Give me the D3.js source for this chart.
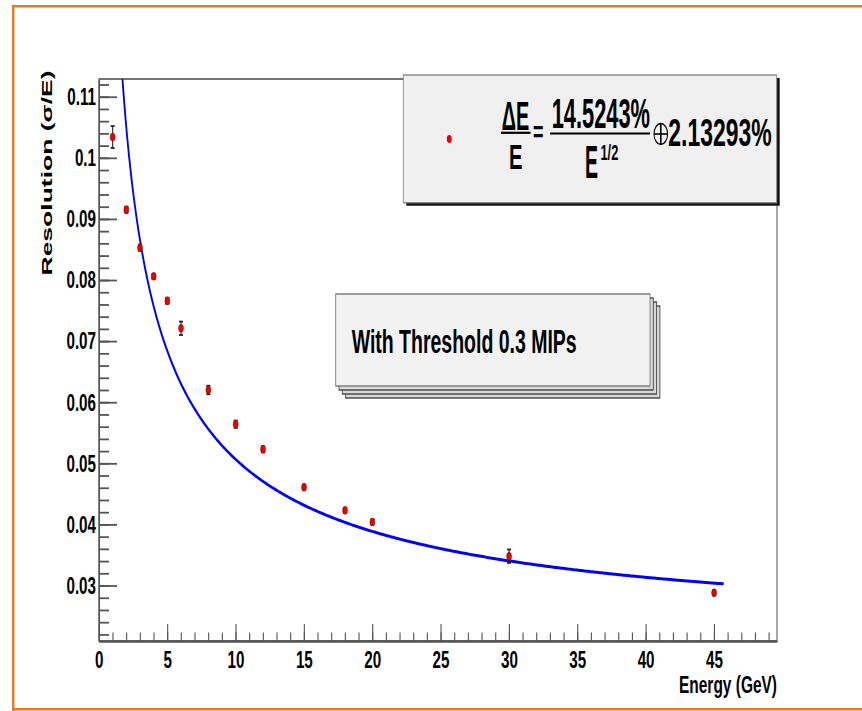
<!DOCTYPE html>
<html>
<head>
<meta charset="utf-8">
<script src="https://cdn.jsdelivr.net/npm/d3@7"></script>
<style>
body { margin: 0; background: #fff; }
text { font-family: "Liberation Sans", Arial, sans-serif; font-weight: bold; fill: #000; }
</style>
</head>
<body>
<script>
// data
var energy     = [1, 2, 3, 4, 5, 6, 8, 10, 12, 15, 18, 20, 30, 45];
var resolution = [0.1034, 0.0915, 0.0853, 0.0806, 0.0766, 0.0721, 0.0620, 0.0564, 0.0523, 0.0461, 0.0423, 0.0404, 0.0348, 0.0288];
var resError   = [0.0018, 0.0005, 0.0005, 0.0004, 0.0005, 0.0011, 0.0007, 0.0006, 0.0005, 0.0004, 0.0004, 0.0004, 0.0011, 0.0004];
var fitParams  = [0.145243, 0.0213293];   // stochastic, constant term
var fitRange   = [0.5, 45.7];
var xTickValues = [0, 5, 10, 15, 20, 25, 30, 35, 40, 45];
var yTickValues = [0.03, 0.04, 0.05, 0.06, 0.07, 0.08, 0.09, 0.1, 0.11];
var yTickLabels = ["0.03", "0.04", "0.05", "0.06", "0.07", "0.08", "0.09", "0.1", "0.11"];

// the picture is squeezed sideways; draw wide and let the viewBox squeeze it
var K = 0.62;
function X(v) { return v / K; }
var W = 862, H = 711;

var svg = d3.select("body").append("svg")
    .attr("width", W).attr("height", H)
    .attr("viewBox", "0 0 " + X(W) + " " + H)
    .attr("preserveAspectRatio", "none");

var x = d3.scaleLinear().domain([0, 49.6]).range([X(99), X(777)]);
var y = d3.scaleLinear().domain([0.02092, 0.1129]).range([641, 79]);

// orange page border
var orange = "#e8781e";
svg.append("line").attr("x1", X(12)).attr("x2", X(862)).attr("y1", 6.2).attr("y2", 6.2)
    .attr("stroke", orange).attr("stroke-width", 2.4);
svg.append("line").attr("x1", X(13.2)).attr("x2", X(13.2)).attr("y1", 5).attr("y2", 711)
    .attr("stroke", orange).attr("stroke-width", 2.4 / K);
svg.append("line").attr("x1", X(12)).attr("x2", X(862)).attr("y1", 709.3).attr("y2", 709.3)
    .attr("stroke", orange).attr("stroke-width", 2.4);

// frame
svg.append("rect")
    .attr("x", x.range()[0]).attr("y", y.range()[1])
    .attr("width", x.range()[1] - x.range()[0]).attr("height", y.range()[0] - y.range()[1])
    .attr("fill", "none").attr("stroke", "#666").attr("stroke-width", 1.8);

// axes: minor ticks then major ticks, pointing inside
var yMinor = d3.range(0.022, 0.1129, 0.002);
svg.append("g").attr("transform", "translate(" + x.range()[0] + ",0)")
    .call(d3.axisLeft(y).tickValues(yMinor).tickSize(-X(10)).tickSizeOuter(0).tickFormat(""));
svg.append("g").attr("class", "yaxis").attr("transform", "translate(" + x.range()[0] + ",0)")
    .call(d3.axisLeft(y).tickValues(yTickValues).tickSize(-X(18)).tickSizeOuter(0).tickPadding(X(3))
        .tickFormat(function(d, i) { return yTickLabels[i]; }));

var xMinor = d3.range(1, 50, 1);
svg.append("g").attr("transform", "translate(0," + y.range()[0] + ")")
    .call(d3.axisBottom(x).tickValues(xMinor).tickSize(-8.5).tickSizeOuter(0).tickFormat(""));
svg.append("g").attr("class", "xaxis").attr("transform", "translate(0," + y.range()[0] + ")")
    .call(d3.axisBottom(x).tickValues(xTickValues).tickSize(-17).tickSizeOuter(0).tickPadding(10)
        .tickFormat(d3.format("d")));

svg.selectAll(".domain").attr("stroke", "#555").attr("stroke-width", 1.8);
svg.selectAll(".tick line").attr("stroke", "#555").attr("stroke-width", 1.8);
svg.selectAll(".tick text").attr("font-size", 24.5).attr("font-family", null).attr("fill", "#000");

// axis titles
svg.append("text")
    .attr("transform", "translate(" + X(52) + ",173) rotate(-90)")
    .attr("text-anchor", "middle").attr("font-size", 24)
    .attr("textLength", 205).attr("lengthAdjust", "spacingAndGlyphs")
    .text("Resolution (\u03C3/E)");
svg.append("text")
    .attr("x", X(777)).attr("y", 693).attr("text-anchor", "end").attr("font-size", 23)
    .attr("textLength", X(98)).attr("lengthAdjust", "spacingAndGlyphs")
    .text("Energy (GeV)");

// fit curve
svg.append("clipPath").attr("id", "plotclip").append("rect")
    .attr("x", x.range()[0]).attr("y", y.range()[1])
    .attr("width", x.range()[1] - x.range()[0]).attr("height", y.range()[0] - y.range()[1]);
var fitPts = d3.range(0, 401).map(function(i) {
    var e = fitRange[0] + (fitRange[1] - fitRange[0]) * i / 400;
    var a = fitParams[0] / Math.sqrt(e);
    return [e, Math.sqrt(a * a + fitParams[1] * fitParams[1])];
});
svg.append("path")
    .datum(fitPts)
    .attr("clip-path", "url(#plotclip)")
    .attr("fill", "none").attr("stroke", "#0000ff").attr("stroke-width", 3)
    .attr("d", d3.line().x(function(d) { return x(d[0]); }).y(function(d) { return y(d[1]); }));

// error bars and markers
var pts = energy.map(function(e, i) { return {e: e, r: resolution[i], s: resError[i]}; });
var eb = svg.append("g").attr("stroke", "#222").attr("stroke-width", 1.8);
eb.selectAll("line.v").data(pts).enter().append("line")
    .attr("x1", function(d) { return x(d.e); }).attr("x2", function(d) { return x(d.e); })
    .attr("y1", function(d) { return y(d.r - d.s); }).attr("y2", function(d) { return y(d.r + d.s); });
eb.selectAll("line.t").data(pts).enter().append("line")
    .attr("x1", function(d) { return x(d.e) - X(2); }).attr("x2", function(d) { return x(d.e) + X(2); })
    .attr("y1", function(d) { return y(d.r + d.s); }).attr("y2", function(d) { return y(d.r + d.s); });
eb.selectAll("line.b").data(pts).enter().append("line")
    .attr("x1", function(d) { return x(d.e) - X(2); }).attr("x2", function(d) { return x(d.e) + X(2); })
    .attr("y1", function(d) { return y(d.r - d.s); }).attr("y2", function(d) { return y(d.r - d.s); });
svg.append("g").selectAll("circle").data(pts).enter().append("circle")
    .attr("cx", function(d) { return x(d.e); }).attr("cy", function(d) { return y(d.r); })
    .attr("r", 4).attr("fill", "#ee0000").attr("stroke", "#661111").attr("stroke-width", 0.6);

// threshold label (stacked pave)
var pv = {x0: 335.7, y0: 294, x1: 650, y1: 386};
[3, 2, 1].forEach(function(k) {
    svg.append("rect")
        .attr("x", X(pv.x0 + 3.3 * k)).attr("y", pv.y0 + 4 * k)
        .attr("width", X(pv.x1 - pv.x0)).attr("height", pv.y1 - pv.y0)
        .attr("fill", "#d8d8d8").attr("stroke", "#444").attr("stroke-width", 1.4);
});
svg.append("rect")
    .attr("x", X(pv.x0)).attr("y", pv.y0)
    .attr("width", X(pv.x1 - pv.x0)).attr("height", pv.y1 - pv.y0)
    .attr("fill", "#f2f2f2").attr("stroke", "#777").attr("stroke-width", 1.4);
svg.append("text")
    .attr("x", X(351.7)).attr("y", 353.5).attr("font-size", 33)
    .attr("textLength", X(225)).attr("lengthAdjust", "spacingAndGlyphs")
    .text("With Threshold 0.3 MIPs");

// legend with fit formula
var lg = {x0: 403.3, y0: 75, x1: 776.7, y1: 202.7};
svg.append("rect")
    .attr("x", X(lg.x0 + 3)).attr("y", lg.y0 + 3)
    .attr("width", X(lg.x1 - lg.x0)).attr("height", lg.y1 - lg.y0)
    .attr("fill", "#111");
svg.append("rect")
    .attr("x", X(lg.x0)).attr("y", lg.y0)
    .attr("width", X(lg.x1 - lg.x0)).attr("height", lg.y1 - lg.y0)
    .attr("fill", "#f0f0f0").attr("stroke", "#888").attr("stroke-width", 1.4);
svg.append("circle").attr("cx", X(449.3)).attr("cy", 139).attr("r", 4).attr("fill", "#ee0000");

// formula pieces: squeeze each to its measured width with a scale transform
function ltext(s, x0, w, base, size) {
    var t = svg.append("text").attr("font-size", size).text(s);
    var natural = t.node().getComputedTextLength();
    var sx = X(w) / natural;
    t.attr("transform", "translate(" + X(x0) + "," + base + ") scale(" + sx + ",1)");
}
function bar(x0, x1, yy) {
    svg.append("line").attr("x1", X(x0)).attr("x2", X(x1)).attr("y1", yy).attr("y2", yy)
        .attr("stroke", "#000").attr("stroke-width", 2.2);
}
ltext("\u0394E", 501.7, 27.5, 129.5, 40);
bar(501, 530.5, 132.8);
ltext("E", 509, 13.5, 168.5, 36);
ltext("=", 533, 10.5, 142, 30);
ltext("14.5243%", 551.7, 98.3, 127.5, 42);
bar(550, 650, 133.5);
ltext("E", 585, 13, 178, 46);
ltext("1/2", 600.5, 17.8, 159.5, 22);
// circled plus
svg.append("ellipse").attr("cx", X(660.8)).attr("cy", 134).attr("rx", X(6.8)).attr("ry", 10.5)
    .attr("fill", "none").attr("stroke", "#000").attr("stroke-width", 1.6);
svg.append("line").attr("x1", X(654)).attr("x2", X(667.6)).attr("y1", 134).attr("y2", 134)
    .attr("stroke", "#000").attr("stroke-width", 1.6);
svg.append("line").attr("x1", X(660.8)).attr("x2", X(660.8)).attr("y1", 123.5).attr("y2", 144.5)
    .attr("stroke", "#000").attr("stroke-width", 1.6 / K);
ltext("2.13293%", 668.3, 103.4, 145.5, 38);
</script>
</body>
</html>
